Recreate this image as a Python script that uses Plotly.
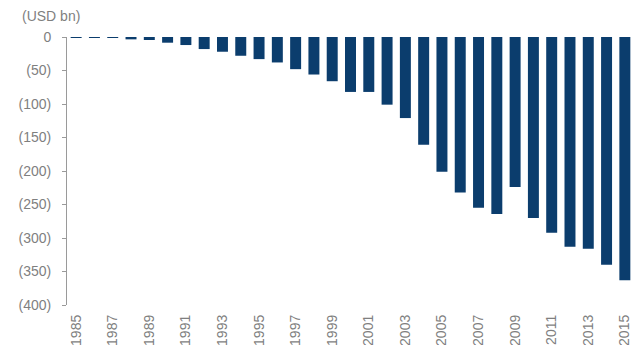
import plotly.graph_objects as go

# Annual balance, USD bn (negative = deficit)
years = [str(y) for y in range(1985, 2016)]
balance = [
    -0.2, -0.4, -1, -3.5, -4.5, -8.5, -12, -18, -22, -28,
    -33, -38, -48, -56, -66, -82, -82, -101, -121, -161,
    -201, -232, -255, -264, -224, -270, -292, -313, -316, -340,
    -363,
]
y_ticks = [0, -50, -100, -150, -200, -250, -300, -350, -400]
y_labels = ["0", "(50)", "(100)", "(150)", "(200)", "(250)", "(300)", "(350)", "(400)"]
unit_label = "(USD bn)"

BAR = "#0b3d6d"
AXIS = "#9a9a9a"
TEXT = "#7f7f7f"
FONT = "Liberation Sans, Arial, sans-serif"

# category boundaries get a tick every second year, on the zero line
boundary_ticks = [i + 0.5 for i in range(1, len(years) - 1, 2)]
cat_range = [-0.5, len(years) - 0.5]

fig = go.Figure()
fig.add_trace(go.Bar(
    x=years, y=balance,
    marker=dict(color=BAR, line=dict(width=0)),
    hoverinfo="x+y",
))

zero_axis = dict(
    overlaying="x", anchor="y", side="top", range=cat_range,
    showgrid=False, zeroline=False, showticklabels=False,
    tickmode="array", tickvals=boundary_ticks, automargin=False,
    ticklen=3, tickwidth=1, tickcolor=AXIS,
)

fig.update_layout(
    width=639, height=345,
    margin=dict(l=67, r=5, t=37, b=40),
    paper_bgcolor="white", plot_bgcolor="white",
    font=dict(family=FONT, size=14, color=TEXT),
    showlegend=False,
    bargap=0.4,
    xaxis=dict(
        type="category", range=cat_range,
        tickmode="array", tickvals=years[::2], ticktext=years[::2],
        tickangle=-90, ticks="", showline=False, showgrid=False,
        zeroline=False, ticklabelstandoff=6, automargin=False,
        tickfont=dict(size=14, color=TEXT),
    ),
    xaxis2=dict(zero_axis, showline=True, linecolor=AXIS, linewidth=1, ticks="outside"),
    xaxis3=dict(zero_axis, showline=False, ticks="inside"),
    yaxis=dict(
        range=[-400, 0], tickmode="array", tickvals=y_ticks, ticktext=y_labels,
        showline=True, linecolor=AXIS, linewidth=1,
        ticks="outside", ticklen=4, tickcolor=AXIS,
        showgrid=False, zeroline=False, ticklabelstandoff=8, automargin=False,
        tickfont=dict(size=14, color=TEXT),
    ),
    annotations=[dict(
        text=unit_label, xref="paper", yref="paper", x=-0.028, y=1.0,
        xanchor="center", yanchor="bottom", yshift=11, showarrow=False,
        font=dict(size=14, color=TEXT, family=FONT),
    )],
)

fig.write_html("out.html")
